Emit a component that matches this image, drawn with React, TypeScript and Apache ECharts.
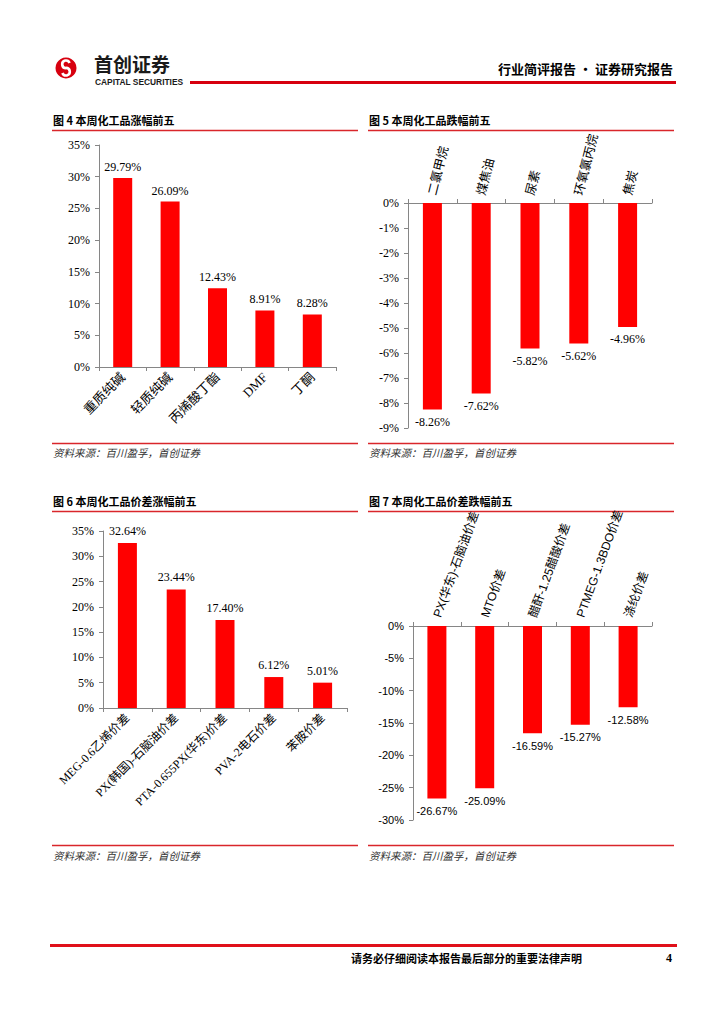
import React, { useEffect, useRef } from 'react';
import * as echarts from 'echarts';

const riseCats = ['重质纯碱', '轻质纯碱', '丙烯酸丁酯', 'DMF', '丁酮'];
const riseVals = [29.79, 26.09, 12.43, 8.91, 8.28];
const fallCats = ['二氯甲烷', '煤焦油', '尿素', '环氧氯丙烷', '焦炭'];
const fallVals = [-8.26, -7.62, -5.82, -5.62, -4.96];
const spreadUpCats = ['MEG-0.6乙烯价差', 'PX(韩国)-石脑油价差', 'PTA-0.655PX(华东)价差', 'PVA-2电石价差', '苯胺价差'];
const spreadUpVals = [32.64, 23.44, 17.4, 6.12, 5.01];
const spreadDownCats = ['PX(华东)-石脑油价差', 'MTO价差', '醋酐-1.25醋酸价差', 'PTMEG-1.3BDO价差', '涤纶价差'];
const spreadDownVals = [-26.67, -25.09, -16.59, -15.27, -12.58];

const titles = ['图 4 本周化工品涨幅前五', '图 5 本周化工品跌幅前五', '图 6 本周化工品价差涨幅前五', '图 7 本周化工品价差跌幅前五'];
const sourceText = '资料来源：百川盈孚，首创证券';

const SERIF = "'Liberation Serif', 'Noto Sans CJK SC', serif";
const SANS = "'Liberation Sans', 'Noto Sans CJK SC', sans-serif";
const RED = '#ff0000';
const AX = '#868686';

export default function App() {
  const ref = useRef<HTMLDivElement>(null);
  useEffect(() => {
    if (!ref.current) return;
    const chart = echarts.init(ref.current, null, { renderer: 'svg' });

    const fmt = (p: any) => p.value.toFixed(2) + '%';

    const grids = [
      { left: 99, top: 145, width: 237, height: 222 },
      { left: 408, top: 203, width: 244, height: 225 },
      { left: 103, top: 531, width: 244, height: 177 },
      { left: 413, top: 626, width: 239, height: 194 },
    ];

    const xAxisBase = (gi: number, cats: string[], font: string, size: number, rotate: number, top: boolean, margin: number) => ({
      type: 'category',
      gridIndex: gi,
      data: cats,
      position: top ? 'top' : 'bottom',
      axisLine: { lineStyle: { color: AX, width: 1 } },
      axisTick: { show: true, length: 4, inside: false, lineStyle: { color: AX } },
      axisLabel: { interval: 0, rotate, margin, color: '#000', fontFamily: font, fontSize: size },
    });

    const yAxisBase = (gi: number, min: number, max: number, interval: number, font: string, size: number) => ({
      type: 'value',
      gridIndex: gi,
      min,
      max,
      interval,
      axisLine: { show: true, lineStyle: { color: AX, width: 1 } },
      axisTick: { show: true, length: 4, lineStyle: { color: AX } },
      splitLine: { show: false },
      axisLabel: { formatter: '{value}%', color: '#000', fontFamily: font, fontSize: size, margin: 9 },
    });

    const bar = (i: number, data: number[], pos: string, dist: number, font: string, size: number) => ({
      type: 'bar',
      xAxisIndex: i,
      yAxisIndex: i,
      data,
      barWidth: 19,
      itemStyle: { color: RED },
      label: { show: true, position: pos, distance: dist, formatter: fmt, color: '#000', fontFamily: font, fontSize: size },
    });

    const graphics: any[] = [];
    // header
    graphics.push({ type: 'circle', shape: { cx: 66, cy: 68, r: 10.5 }, style: { fill: '#d7000f' } });
    graphics.push({ type: 'arc', shape: { cx: 66, cy: 64.3, r: 3.8, startAngle: -0.35, endAngle: Math.PI / 2, clockwise: false }, style: { stroke: '#fff', lineWidth: 2.6, fill: 'none' } });
    graphics.push({ type: 'arc', shape: { cx: 66, cy: 71.7, r: 3.8, startAngle: -Math.PI / 2, endAngle: Math.PI - 0.35, clockwise: true }, style: { stroke: '#fff', lineWidth: 2.6, fill: 'none' } });
    graphics.push({ type: 'text', x: 94, y: 63.5, style: { text: '首创证券', font: "bold 19px 'Noto Sans CJK SC'", fill: '#1a1a1a', verticalAlign: 'middle' } });
    graphics.push({ type: 'text', x: 95, y: 81.5, style: { text: 'CAPITAL SECURITIES', font: "bold 8.4px 'Liberation Sans'", fill: '#1a1a1a', verticalAlign: 'middle' } });
    graphics.push({ type: 'line', shape: { x1: 190, y1: 82.5, x2: 676, y2: 82.5 }, style: { stroke: '#d7000f', lineWidth: 3 } });
    graphics.push({ type: 'text', x: 673, y: 68, style: { text: '行业简评报告 · 证券研究报告', font: "bold 13px 'Noto Sans CJK SC'", fill: '#000', align: 'right', verticalAlign: 'middle' } });

    // chart frames
    const frames = [
      { x: 52, x2: 358, ty: 120, l1: 130.5, l2: 443.5, sy: 452 },
      { x: 368, x2: 674, ty: 120, l1: 130.5, l2: 443.5, sy: 452 },
      { x: 52, x2: 358, ty: 501, l1: 511.5, l2: 845.5, sy: 855 },
      { x: 368, x2: 674, ty: 501, l1: 511.5, l2: 845.5, sy: 855 },
    ];
    frames.forEach((f, i) => {
      graphics.push({ type: 'text', x: f.x + 1, y: f.ty, style: { text: titles[i], font: "bold 11px 'Noto Sans CJK SC'", fill: '#000', verticalAlign: 'middle' } });
      graphics.push({ type: 'line', shape: { x1: f.x, y1: f.l1, x2: f.x2, y2: f.l1 }, style: { stroke: '#d9262b', lineWidth: 1.5 } });
      graphics.push({ type: 'line', shape: { x1: f.x, y1: f.l2, x2: f.x2, y2: f.l2 }, style: { stroke: '#d9262b', lineWidth: 1.5 } });
      graphics.push({ type: 'text', x: f.x + 1, y: f.sy, style: { text: sourceText, font: "italic 10.5px 'Noto Sans CJK SC'", fill: '#333', verticalAlign: 'middle' } });
    });

    // footer
    graphics.push({ type: 'line', shape: { x1: 50, y1: 945.5, x2: 677, y2: 945.5 }, style: { stroke: '#e0101a', lineWidth: 3 } });
    graphics.push({ type: 'text', x: 582, y: 958, style: { text: '请务必仔细阅读本报告最后部分的重要法律声明', font: "bold 11px 'Noto Sans CJK SC'", fill: '#000', align: 'right', verticalAlign: 'middle' } });
    graphics.push({ type: 'text', x: 672, y: 958, style: { text: '4', font: "bold 12px 'Liberation Serif'", fill: '#000', align: 'right', verticalAlign: 'middle' } });

    chart.setOption({
      animation: false,
      backgroundColor: '#fff',
      grid: grids.map((g) => ({ ...g, containLabel: false })),
      xAxis: [
        xAxisBase(0, riseCats, SERIF, 13, 45, false, 8),
        xAxisBase(1, fallCats, SERIF, 12.5, 76, true, 8),
        xAxisBase(2, spreadUpCats, SERIF, 12, 45, false, 8),
        xAxisBase(3, spreadDownCats, SANS, 12, 70, true, 9),
      ],
      yAxis: [
        yAxisBase(0, 0, 35, 5, SERIF, 12),
        yAxisBase(1, -9, 0, 1, SERIF, 12),
        yAxisBase(2, 0, 35, 5, SERIF, 12),
        yAxisBase(3, -30, 0, 5, SANS, 11),
      ],
      series: [
        bar(0, riseVals, 'top', 5, SERIF, 12),
        bar(1, fallVals, 'bottom', 6, SERIF, 12),
        bar(2, spreadUpVals, 'top', 6, SERIF, 12),
        bar(3, spreadDownVals, 'bottom', 7, SANS, 11),
      ],
      graphic: graphics,
    });

    return () => chart.dispose();
  }, []);

  return <div ref={ref} style={{ position: 'absolute', left: 0, top: 0, width: 724, height: 1024 }} />;
}
